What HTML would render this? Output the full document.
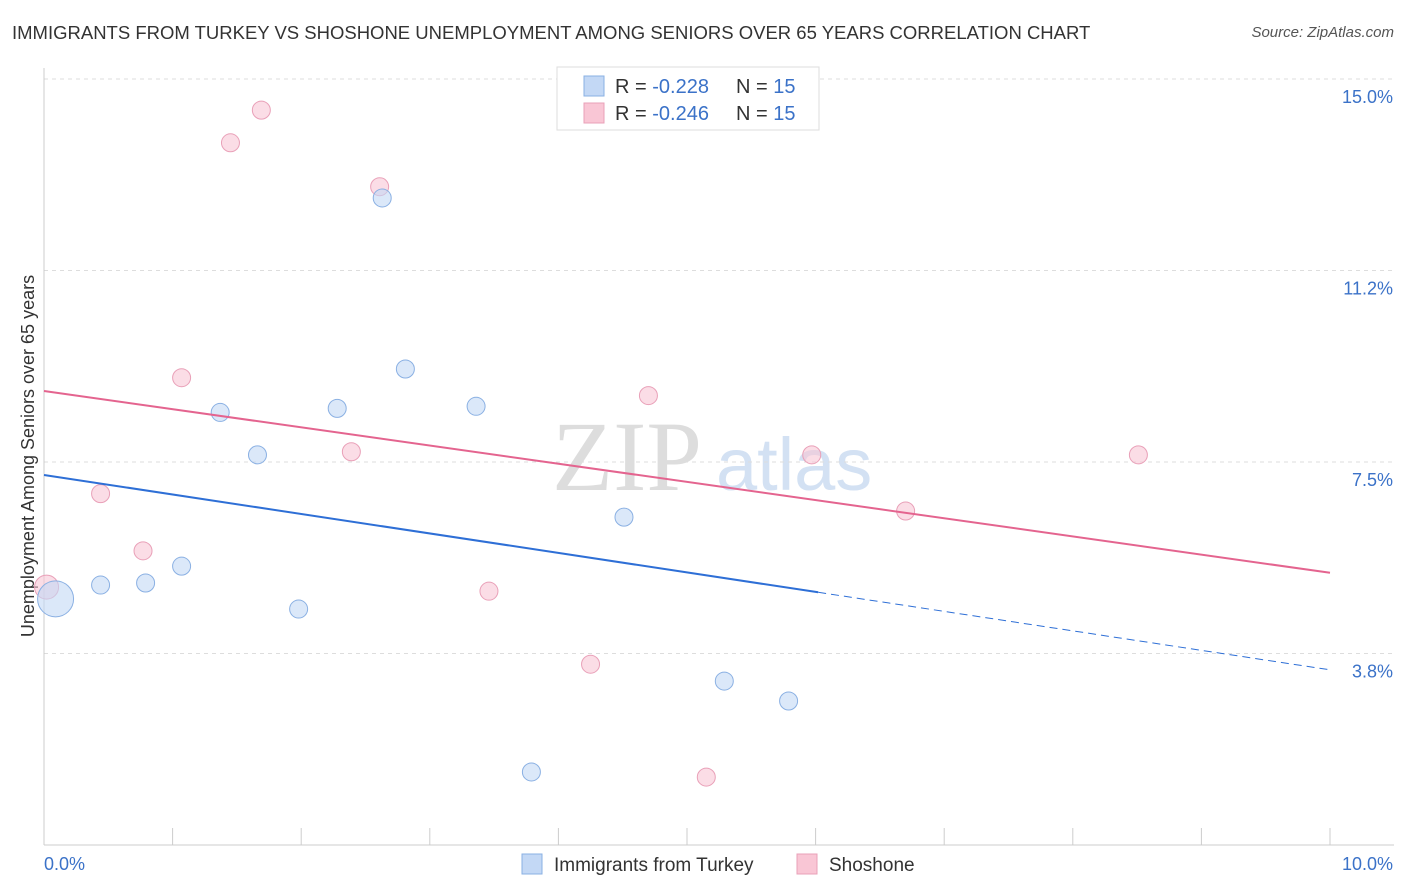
<!DOCTYPE html>
<html><head><meta charset="utf-8"><style>
body{margin:0;background:#fff;font-family:"Liberation Sans",sans-serif;}
#wrap{position:relative;width:1406px;height:892px;overflow:hidden}
.title{position:absolute;left:12px;top:22px;font-size:18.5px;color:#333}
.src{position:absolute;right:12px;top:24px;font-size:15px;color:#555;font-style:italic}
</style></head><body>
<div id="wrap">
<div class="title">IMMIGRANTS FROM TURKEY VS SHOSHONE UNEMPLOYMENT AMONG SENIORS OVER 65 YEARS CORRELATION CHART</div>
<div class="src">Source: ZipAtlas.com</div>
<svg id="svg" width="1406" height="892" style="position:absolute;left:0;top:0"></svg>
</div>
<script>
const yTicks=[3.75,7.5,11.25,15];
const yTickLabels=["3.8%","7.5%","11.2%","15.0%"];
const blueX=[0.09,0.44,0.79,1.07,1.37,1.66,1.98,2.28,2.63,2.81,3.36,3.79,4.51,5.29,5.79];
const blueY=[4.82,5.09,5.13,5.46,8.47,7.64,4.62,8.55,12.67,9.32,8.59,1.43,6.42,3.21,2.82];
const blueR=[18,9,9,9,9,9,9,9,9,9,9,9,9,9,9];
const pinkX=[0.02,0.44,0.77,1.07,1.45,1.69,2.39,2.61,3.46,4.25,4.70,5.15,5.97,6.70,8.51];
const pinkY=[5.05,6.88,5.76,9.15,13.75,14.39,7.70,12.89,4.97,3.54,8.80,1.33,7.64,6.54,7.64];
const pinkR=[12,9,9,9,9,9,9,9,9,9,9,9,9,9,9,9];
const blueTrend=[7.245,3.43];
const pinkTrend=[8.89,5.33];
const X0=44,X1=1330,Y0=845,YS=51.07;
const sx=v=>X0+(X1-X0)*v/10, sy=v=>Y0-v*YS;
const svg=document.getElementById('svg');const NS='http://www.w3.org/2000/svg';
function mk(t,a,p){const e=document.createElementNS(NS,t);for(const k in a)e.setAttribute(k,a[k]);(p||svg).appendChild(e);return e;}
let w=mk('text',{x:552,y:490,'font-size':100,fill:'#ddd','font-family':'Liberation Serif'});w.textContent='ZIP';


let w2=mk('text',{x:716,y:490,'font-size':74,fill:'#d3e1f3','font-family':'Liberation Sans'});w2.textContent='atlas';


yTicks.forEach((v,i)=>{
 const g=mk('line',{x1:X0,x2:1394,y1:sy(v),y2:sy(v),stroke:'#ddd','stroke-dasharray':'4 4'});
 
 
 const t=mk('text',{x:1393,y:sy(v)+24,'text-anchor':'end','font-size':18,fill:'#3b72c8'});t.textContent=yTickLabels[i];
 
 
});
let ax=mk('line',{x1:X0,x2:1394,y1:Y0,y2:Y0,stroke:'#ccc'});


let ay=mk('line',{x1:X0,x2:X0,y1:68,y2:Y0,stroke:'#ccc'});


for(let i=0;i<=10;i++){const l=mk('line',{x1:sx(i),x2:sx(i),y1:828,y2:Y0,stroke:'#ccc'});
 
 }
[["0.0%",44,'start'],["10.0%",1393,'end']].forEach(d=>{const t=mk('text',{x:d[1],y:870,'text-anchor':d[2],'font-size':18,fill:'#3b72c8'});t.textContent=d[0];
 
 });
let yt=mk('text',{transform:'translate(34,456) rotate(-90)','text-anchor':'middle','font-size':18,fill:'#333'});yt.textContent='Unemployment Among Seniors over 65 years';


function dots(xs,ys,rs,fill,stroke,name){xs.forEach((x,i)=>{const c=mk('circle',{cx:sx(x),cy:sy(ys[i]),r:rs[i],fill:fill,stroke:stroke,'stroke-width':1,'fill-opacity':0.6});
 
 });}
dots(pinkX,pinkY,pinkR,'#f9c6d5','#e9a0b8','shoshone-point');
dots(blueX,blueY,blueR,'#c3d8f5','#8ab0e3','turkey-point');
const bm=blueTrend[0]+(blueTrend[1]-blueTrend[0])*0.602;
let bl=mk('line',{x1:sx(0),y1:sy(blueTrend[0]),x2:sx(6.02),y2:sy(bm),stroke:'#2e6fd6','stroke-width':2});


let bd=mk('line',{x1:sx(6.02),y1:sy(bm),x2:sx(10),y2:sy(blueTrend[1]),stroke:'#2e6fd6','stroke-width':1,'stroke-dasharray':'8 5'});


let pl=mk('line',{x1:sx(0),y1:sy(pinkTrend[0]),x2:sx(10),y2:sy(pinkTrend[1]),stroke:'#e4648f','stroke-width':2});


let lb=mk('rect',{x:557,y:67,width:262,height:63,fill:'#fff',stroke:'#ddd'});


[['#c3d8f5','#8ab0e3','-0.228',86],['#f9c6d5','#e9a0b8','-0.246',113]].forEach(d=>{
 const r=mk('rect',{x:584,y:d[3]-10,width:20,height:20,fill:d[0],stroke:d[1]});
 
 
 const t=mk('text',{x:615,y:d[3]+7,'font-size':20,fill:'#333'});
 t.innerHTML='R = <tspan fill="#3b72c8">'+d[2]+'</tspan>';
 
 
 const n=mk('text',{x:736,y:d[3]+7,'font-size':20,fill:'#333'});
 n.innerHTML='N = <tspan fill="#3b72c8">15</tspan>';
 
 
});
[['#c3d8f5','#8ab0e3','Immigrants from Turkey',522],['#f9c6d5','#e9a0b8','Shoshone',797]].forEach(d=>{
 const r=mk('rect',{x:d[3],y:854,width:20,height:20,fill:d[0],stroke:d[1]});
 
 
 const t=mk('text',{x:d[3]+32,y:871,'font-size':19,fill:'#333'});t.textContent=d[2];
 
 
});
</script>
</body></html>
